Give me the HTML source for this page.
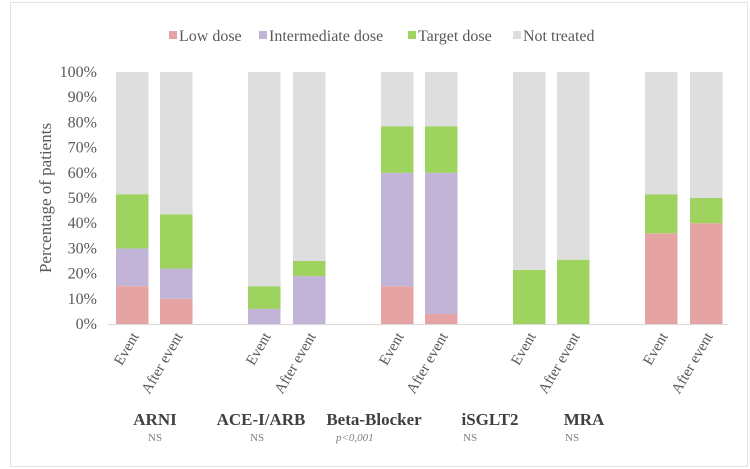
<!DOCTYPE html>
<html><head><meta charset="utf-8"><style>
body{margin:0;background:#fff;}
svg{display:block;font-family:"Liberation Serif",serif;}
</style></head><body>
<svg width="750" height="469" id="chart">
<rect x="10.5" y="2.5" width="737" height="464" fill="#fff" stroke="#e4e4e4"/>
</svg>
<script>
const groups = ["ARNI","ACE-I/ARB","Beta-Blocker","iSGLT2","MRA"];
const groupNotes = ["NS","NS","p<0,001","NS","NS"];
const periods = ["Event","After event"];
const seriesNames = ["Low dose","Intermediate dose","Target dose","Not treated"];
const lowDose = [15,10, 0,0, 15,4, 0,0, 36,40];
const intermediateDose = [15,12, 6,19, 45,56, 0,0, 0,0];
const targetDose = [21.5,21.5, 9,6, 18.5,18.5, 21.5,25.5, 15.5,10];
const yTicks = [0,10,20,30,40,50,60,70,80,90,100];
const tickLabels = yTicks.map(v=>v+"%");

const colors = ["#e6a3a3","#c2b4d6","#9fd35f","#dedede"];
const svg = document.getElementById('chart');
const NS = "http://www.w3.org/2000/svg";
function el(tag, attrs, parent){const e=document.createElementNS(NS,tag);for(const k in attrs)e.setAttribute(k,attrs[k]);(parent||svg).appendChild(e);return e;}
const y0=324, y100=72;
const yScale = v => y0 - (y0-y100)*v/100;
const barStarts=[116,160,248,293,381,425,513,557,645,690];
const barW=32.5;
const groupCenters=[155,261,374,490,584];
const noteX=[148,250,336,463,565];

yTicks.forEach((v,i)=>{
  const t=el('text',{x:97,y:yScale(v)+5,'text-anchor':'end','font-size':16,fill:'#595959'});
  
  
  t.textContent=tickLabels[i];
});
const yt=el('text',{x:0,y:0,transform:'translate(51,198) rotate(-90)','text-anchor':'middle','font-size':17,fill:'#595959'});


yt.textContent='Percentage of patients';

barStarts.forEach((x,i)=>{
  const vals=[lowDose[i],intermediateDose[i],targetDose[i]];
  const sum=vals.reduce((a,b)=>a+b,0);
  vals.push(100-sum);
  let acc=0;
  vals.forEach((v,s)=>{
    if(v<=0) return;
    const r=el('rect',{x:x,y:yScale(acc+v),width:barW,height:yScale(acc)-yScale(acc+v),fill:colors[s]});
    
    
    acc+=v;
  });
  const cx=x+barW/2;
  const lab=el('text',{x:0,y:0,transform:`translate(${cx+7},${y0+12}) rotate(-60)`,'text-anchor':'end','font-size':15,fill:'#595959'});
  
  
  lab.textContent=periods[i%2];
});
const ax=el('line',{x1:108,x2:728,y1:y0+0.5,y2:y0+0.5,stroke:'#d9d9d9','stroke-width':1});



groups.forEach((g,i)=>{
  const t=el('text',{x:groupCenters[i],y:425,'text-anchor':'middle','font-size':17,'font-weight':'bold',fill:'#404040'});
  
  
  t.textContent=g;
  const n=el('text',{x:noteX[i],y:441,'font-size':11,fill:'#7f7f7f','font-style':groupNotes[i].startsWith('p')?'italic':'normal'});
  
  
  n.textContent=groupNotes[i];
});

const legX=[169,259,408,513];
seriesNames.forEach((s,i)=>{
  const r=el('rect',{x:legX[i],y:31,width:8,height:8,fill:colors[i]});
  
  
  const t=el('text',{x:legX[i]+10,y:41,'font-size':16,fill:'#595959'});
  
  
  t.textContent=s;
});
</script>
</body></html>
